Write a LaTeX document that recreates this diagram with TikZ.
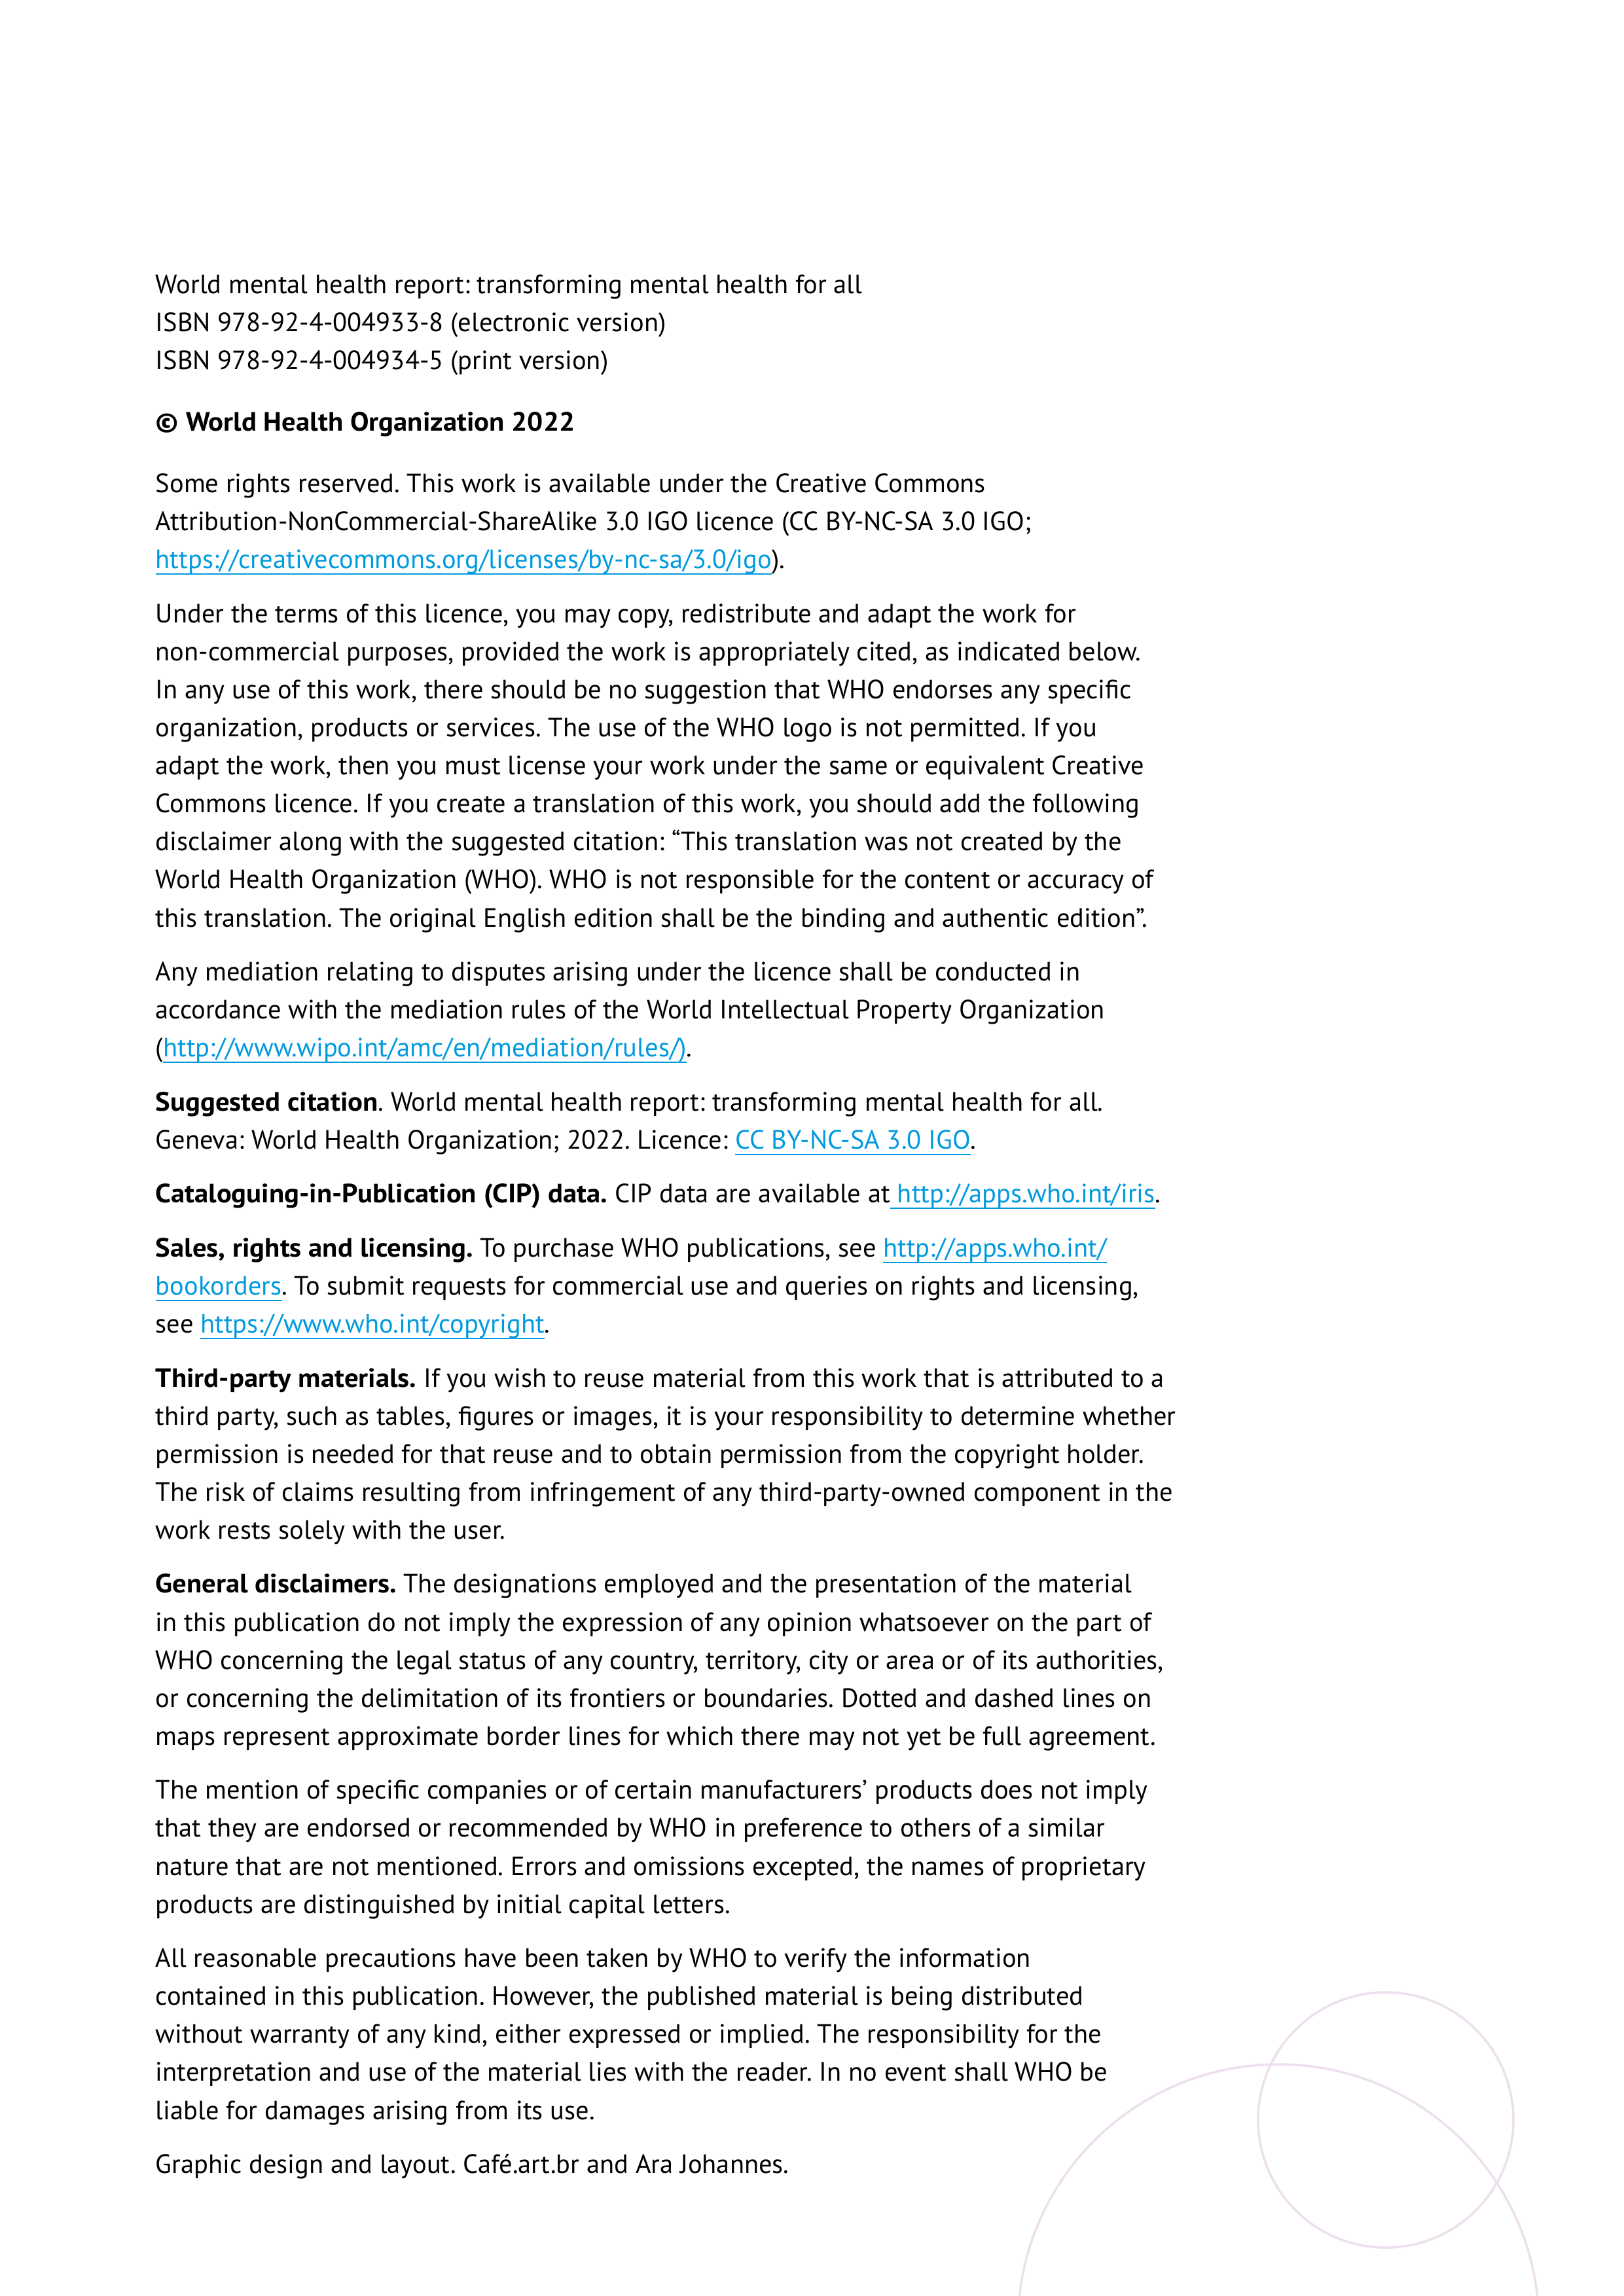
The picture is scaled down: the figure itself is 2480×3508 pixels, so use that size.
\documentclass[tikz,border=0pt]{standalone}
\usepackage{fontspec}
\setmainfont{PT Sans}[BoldFeatures={FakeStretch=1.055}]
\usepackage{xcolor}
\definecolor{whoblue}{RGB}{0,154,222}
\definecolor{ringpink}{RGB}{237,223,238}
\newsavebox{\linkbox}
\newcommand{\weblink}[1]{{\color{whoblue}\sbox{\linkbox}{#1}\rlap{\rule[-2.3pt]{\wd\linkbox}{0.55pt}}\usebox{\linkbox}}}

\tikzset{
  para/.style={anchor=base west, align=left, inner sep=0pt, font=\fontsize{9.75}{14}\selectfont\frenchspacing},
  ring/.style={draw=ringpink, line width=0.85pt}
}

\begin{document}
\begin{tikzpicture}[x=0.0084677cm, y=-0.0084677cm]
\useasboundingbox (0,0) rectangle (2480,3508);
% rings in the corner
\begin{scope}
\clip (0,0) rectangle (2480,3508);
\draw[ring] (2117,3239) circle (195);
\draw[ring] (1953,3552) circle (398);
\end{scope}
% title and isbn (nodes sit on the baseline of their last line)
\node[para] (isbn) at (237,564.5) {World mental health report: transforming mental health for all\\
ISBN 978-92-4-004933-8 (electronic version)\\
ISBN 978-92-4-004934-5 (print version)};
\node[para] (copy) at (237,658.5) {\textbf{© World Health Organization 2022}};
% licence
\node[para] (rights) at (237,868.7) {Some rights reserved. This work is available under the Creative Commons\\
Attribution-NonCommercial-ShareAlike 3.0 IGO licence (CC BY-NC-SA 3.0 IGO;\\
\weblink{https://creativecommons.org/licenses/by-nc-sa/3.0/igo}).};
\node[para] (terms) at (237,1416.0) {Under the terms of this licence, you may copy, redistribute and adapt the work for\\
non-commercial purposes, provided the work is appropriately cited, as indicated below.\\
In any use of this work, there should be no suggestion that WHO endorses any specific\\
organization, products or services. The use of the WHO logo is not permitted. If you\\
adapt the work, then you must license your work under the same or equivalent Creative\\
Commons licence. If you create a translation of this work, you should add the following\\
disclaimer along with the suggested citation: “This translation was not created by the\\
World Health Organization (WHO). WHO is not responsible for the content or accuracy of\\
this translation. The original English edition shall be the binding and authentic edition”.};
\node[para] (mediation) at (237,1614.7) {Any mediation relating to disputes arising under the licence shall be conducted in\\
accordance with the mediation rules of the World Intellectual Property Organization\\
(\weblink{http://www.wipo.int/amc/en/mediation/rules/)}.};
% citation, cip, sales
\node[para] (citation) at (237,1755.3) {\textbf{Suggested citation}. World mental health report: transforming mental health for all.\\
Geneva: World Health Organization; 2022. Licence: \weblink{CC BY-NC-SA 3.0 IGO}.};
\node[para] (cip) at (237,1837.8) {\textbf{Cataloguing-in-Publication (CIP) data.} CIP data are available at\weblink{ http://apps.who.int/iris}.};
\node[para] (sales) at (237,2036.5) {\textbf{Sales, rights and licensing.} To purchase WHO publications, see \weblink{http://apps.who.int/}\\
\weblink{bookorders}. To submit requests for commercial use and queries on rights and licensing,\\
see \weblink{https://www.who.int/copyright}.};
% disclaimers
\node[para] (third) at (237,2351.4) {\textbf{Third-party materials.} If you wish to reuse material from this work that is attributed to a\\
third party, such as tables, figures or images, it is your responsibility to determine whether\\
permission is needed for that reuse and to obtain permission from the copyright holder.\\
The risk of claims resulting from infringement of any third-party-owned component in the\\
work rests solely with the user.};
\node[para] (general) at (237,2666.3) {\textbf{General disclaimers.} The designations employed and the presentation of the material\\
in this publication do not imply the expression of any opinion whatsoever on the part of\\
WHO concerning the legal status of any country, territory, city or area or of its authorities,\\
or concerning the delimitation of its frontiers or boundaries. Dotted and dashed lines on\\
maps represent approximate border lines for which there may not yet be full agreement.};
\node[para] (mention) at (237,2923.1) {The mention of specific companies or of certain manufacturers’ products does not imply\\
that they are endorsed or recommended by WHO in preference to others of a similar\\
nature that are not mentioned. Errors and omissions excepted, the names of proprietary\\
products are distinguished by initial capital letters.};
\node[para] (precaution) at (237,3238.0) {All reasonable precautions have been taken by WHO to verify the information\\
contained in this publication. However, the published material is being distributed\\
without warranty of any kind, either expressed or implied. The responsibility for the\\
interpretation and use of the material lies with the reader. In no event shall WHO be\\
liable for damages arising from its use.};
\node[para] (design) at (237,3320.5) {Graphic design and layout. Café.art.br and Ara Johannes.};
\end{tikzpicture}
\end{document}
